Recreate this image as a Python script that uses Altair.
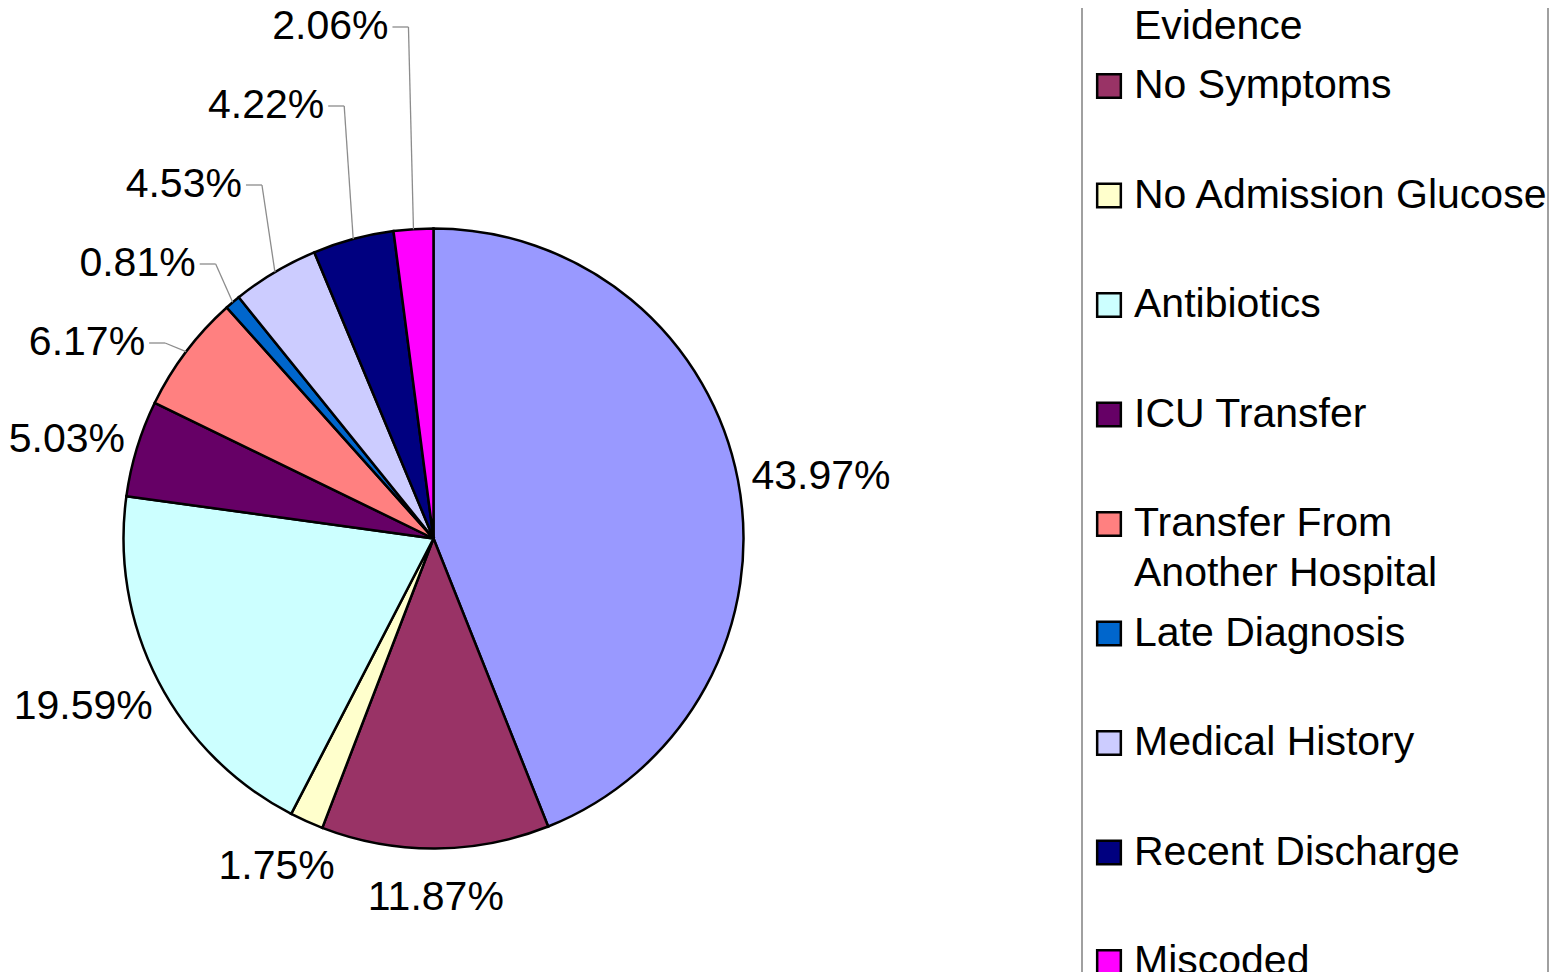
import math
import altair as alt
import pandas as pd

# ---------------- data ----------------
categories = [
    "No Clinical Evidence", "No Symptoms", "No Admission Glucose", "Antibiotics",
    "ICU Transfer", "Transfer From Another Hospital", "Late Diagnosis",
    "Medical History", "Recent Discharge", "Miscoded",
]
legend_lines = [
    ["No Clinical", "Evidence"], ["No Symptoms"], ["No Admission Glucose"], ["Antibiotics"],
    ["ICU Transfer"], ["Transfer From", "Another Hospital"], ["Late Diagnosis"],
    ["Medical History"], ["Recent Discharge"], ["Miscoded"],
]
percent = [43.97, 11.87, 1.75, 19.59, 5.03, 6.17, 0.81, 4.53, 4.22, 2.06]
colors = ["#9999FF", "#993366", "#FFFFCC", "#CCFFFF", "#660066",
          "#FF8080", "#0066CC", "#CCCCFF", "#000080", "#FF00FF"]
leader_slices = ["Transfer From Another Hospital", "Late Diagnosis",
                 "Medical History", "Recent Discharge", "Miscoded"]

# ---------------- layout ----------------
FONT = "Liberation Sans"
FS = 41
CX, CY, R = 425.5, 530.5, 310
GAP, HH = 15, 30
W, H = 1550, 964
CW = {"0": .556, "1": .556, "2": .556, "3": .556, "4": .556, "5": .556,
      "6": .556, "7": .556, "8": .556, "9": .556, ".": .278, "%": .889}


def tw(s):
    return sum(CW.get(c, .556) for c in s) * FS


total = sum(percent)
cum = 0.0
lab_rows, seg_rows = [], []
leader_order = list(reversed(leader_slices))  # Miscoded at top
for i, (cat, v) in enumerate(zip(categories, percent)):
    mid = (cum + v / 2) / total * 2 * math.pi
    cum += v
    sx, sy = math.sin(mid), -math.cos(mid)
    txt = f"{v:.2f}%"
    if cat in leader_slices:
        k = leader_order.index(cat)
        ex, ey = CX + R * sx, CY + R * sy
        ly = 19 + 79 * k
        elx = ex - 5 - 4 * k
        right = elx - 20
        lab_rows.append(dict(cat=cat, txt=txt, x=right, y=ly, kind="right"))
        seg_rows.append(dict(x=right + 4, y=ly, x2=elx, y2=ly))
        seg_rows.append(dict(x=elx, y=ly, x2=ex, y2=ey))
    else:
        hw = tw(txt) / 2
        x = CX + (R + GAP) * sx + sx * hw
        y = CY + (R + GAP) * sy + sy * HH
        lab_rows.append(dict(cat=cat, txt=txt, x=x, y=y, kind="center"))

pie_df = pd.DataFrame({"cat": categories, "value": percent, "idx": range(len(categories))})
lab_df = pd.DataFrame(lab_rows)
seg_df = pd.DataFrame(seg_rows)

LEG_Y0, LEG_DY, LINE_H = -31.5, 109.5, 50
leg_sym = pd.DataFrame({"cat": categories,
                        "y": [LEG_Y0 + LEG_DY * i for i in range(len(categories))]})
leg_txt_rows = []
for i, lines in enumerate(legend_lines):
    for j, ln in enumerate(lines):
        leg_txt_rows.append(dict(t=ln, y=LEG_Y0 + LEG_DY * i + LINE_H * j))
leg_txt = pd.DataFrame(leg_txt_rows)

color_scale = alt.Scale(domain=categories, range=colors)

pie = alt.Chart(pie_df).mark_arc(outerRadius=R, stroke="black", strokeWidth=2.5).encode(
    theta=alt.Theta("value:Q", stack=True),
    color=alt.Color("cat:N", scale=color_scale, legend=None),
    order=alt.Order("idx:Q"),
    x=alt.value(CX), y=alt.value(CY),
)

segs = alt.Chart(seg_df).mark_rule(color="#8C8C8C", strokeWidth=1.3).encode(
    x=alt.X("x:Q", scale=None), y=alt.Y("y:Q", scale=None),
    x2="x2:Q", y2="y2:Q",
)

lab_center = alt.Chart(lab_df).transform_filter(alt.datum.kind == "center").mark_text(
    font=FONT, fontSize=FS, align="center", baseline="middle", color="black", dy=5
).encode(x=alt.X("x:Q", scale=None), y=alt.Y("y:Q", scale=None), text="txt:N")

lab_right = alt.Chart(lab_df).transform_filter(alt.datum.kind == "right").mark_text(
    font=FONT, fontSize=FS, align="right", baseline="middle", color="black"
).encode(x=alt.X("x:Q", scale=None), y=alt.Y("y:Q", scale=None), text="txt:N")

frame = alt.Chart(pie_df).mark_rect(fill=None, stroke="#A0A0A0", strokeWidth=2).encode(
    x=alt.value(1074), x2=alt.value(1540), y=alt.value(-60), y2=alt.value(1030),
)

leg_squares = alt.Chart(leg_sym).mark_square(size=560, stroke="black", strokeWidth=2.5, opacity=1).encode(
    x=alt.value(1101), y=alt.Y("y:Q", scale=None),
    color=alt.Color("cat:N", scale=color_scale, legend=None),
)

leg_text = alt.Chart(leg_txt).mark_text(
    font=FONT, fontSize=FS, align="left", baseline="middle", color="black"
).encode(x=alt.value(1126), y=alt.Y("y:Q", scale=None), text="t:N")

chart = alt.layer(frame, pie, segs, lab_center, lab_right, leg_squares, leg_text).properties(
    width=W, height=H, autosize="none", padding=0
).configure_view(stroke=None)

chart.save("out.html", embed_options={"renderer": "svg", "actions": False})
